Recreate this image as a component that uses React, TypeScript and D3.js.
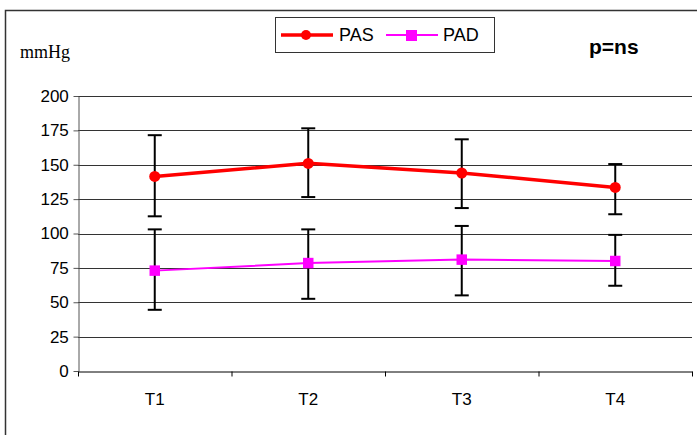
import React, { useRef, useEffect } from "react";
import { select, scaleLinear, scaleBand, line, axisLeft, axisBottom, symbol, symbolSquare } from "d3";

const categories = ["T1", "T2", "T3", "T4"];
const pasMean = [141.5, 151, 144, 133.5];
const pasLow = [112.5, 126.5, 118.5, 114];
const pasHigh = [171.5, 176.5, 168.5, 150.5];
const padMean = [73, 78.5, 81, 80];
const padLow = [44.5, 52.5, 55, 62];
const padHigh = [103, 103, 105.5, 99];
const yTicks = [0, 25, 50, 75, 100, 125, 150, 175, 200];

const W = 697;
const H = 435;
const margin = { left: 78, right: 5, top: 96, bottom: 64 };

function App() {
  const svgRef = useRef<SVGSVGElement>(null);

  useEffect(() => {
    const svg = select(svgRef.current);
    svg.selectAll("*").remove();

    const xScale = scaleBand<string>()
      .domain(categories)
      .range([margin.left, W - margin.right]);
    const yScale = scaleLinear()
      .domain([0, 200])
      .range([H - margin.bottom, margin.top]);
    const cx = (i: number) => xScale(categories[i])! + xScale.bandwidth() / 2;

    // outer frame
    svg.append("rect")
      .attr("x", 5.5).attr("y", 10.5)
      .attr("width", W + 10).attr("height", H + 10)
      .attr("fill", "none").attr("stroke", "#333").attr("stroke-width", 1.5);

    // gridlines
    svg.append("g")
      .selectAll("line")
      .data(yTicks.filter((d) => d > 0))
      .join("line")
      .attr("x1", margin.left).attr("x2", W - margin.right)
      .attr("y1", (d) => Math.round(yScale(d)) + 0.5)
      .attr("y2", (d) => Math.round(yScale(d)) + 0.5)
      .attr("stroke", "#333").attr("stroke-width", 1);

    // axes
    const yAxis = axisLeft(yScale).tickValues(yTicks).tickSize(5).tickSizeOuter(0);
    const gy = svg.append("g").attr("transform", `translate(${margin.left + 0.5},0)`).call(yAxis);
    gy.selectAll("text")
      .attr("font-family", "Liberation Sans, Arial, sans-serif")
      .attr("font-size", 17).attr("fill", "#000").attr("dx", "-0.1em");
    gy.selectAll("line, path").attr("stroke", "#555");

    const xAxis = axisBottom(xScale).tickSize(0).tickSizeOuter(0);
    const gx = svg.append("g").attr("transform", `translate(0,${Math.round(yScale(0)) + 0.5})`).call(xAxis);
    gx.select("path").attr("stroke", "#000");
    gx.selectAll("text")
      .attr("font-family", "Liberation Sans, Arial, sans-serif")
      .attr("font-size", 17).attr("fill", "#000").attr("dy", "1.8em");
    // ticks at band boundaries
    gx.selectAll(".bound")
      .data(categories.concat(["end"]))
      .join("line")
      .attr("class", "bound")
      .attr("x1", (d, i) => margin.left + i * xScale.bandwidth() + 0.5)
      .attr("x2", (d, i) => margin.left + i * xScale.bandwidth() + 0.5)
      .attr("y1", 0).attr("y2", 5)
      .attr("stroke", "#000");

    const lineGen = line<number>()
      .x((d, i) => cx(i))
      .y((d) => yScale(d));

    const drawErr = (low: number[], high: number[]) => {
      const g = svg.append("g").attr("stroke", "#000").attr("stroke-width", 2);
      low.forEach((lo, i) => {
        const x = cx(i);
        g.append("line").attr("x1", x).attr("x2", x).attr("y1", yScale(lo)).attr("y2", yScale(high[i]));
        g.append("line").attr("x1", x - 7).attr("x2", x + 7).attr("y1", yScale(lo)).attr("y2", yScale(lo));
        g.append("line").attr("x1", x - 7).attr("x2", x + 7).attr("y1", yScale(high[i])).attr("y2", yScale(high[i]));
      });
    };
    drawErr(pasLow, pasHigh);
    drawErr(padLow, padHigh);

    // PAS
    svg.append("path").datum(pasMean).attr("d", lineGen)
      .attr("fill", "none").attr("stroke", "#ff0000").attr("stroke-width", 3.5);
    svg.append("g").selectAll("circle").data(pasMean).join("circle")
      .attr("cx", (d, i) => cx(i)).attr("cy", (d) => yScale(d))
      .attr("r", 5.5).attr("fill", "#ff0000");

    // PAD
    svg.append("path").datum(padMean).attr("d", lineGen)
      .attr("fill", "none").attr("stroke", "#ff00ff").attr("stroke-width", 2);
    svg.append("g").selectAll("path").data(padMean).join("path")
      .attr("d", symbol(symbolSquare, 110)())
      .attr("transform", (d, i) => `translate(${cx(i)},${yScale(d)})`)
      .attr("fill", "#ff00ff");

    // legend
    const lg = svg.append("g");
    lg.append("rect").attr("x", 275.5).attr("y", 17.5).attr("width", 219).attr("height", 35)
      .attr("fill", "#fff").attr("stroke", "#333").attr("stroke-width", 1);
    lg.append("line").attr("x1", 281).attr("x2", 333).attr("y1", 35).attr("y2", 35)
      .attr("stroke", "#ff0000").attr("stroke-width", 3.5);
    lg.append("circle").attr("cx", 306).attr("cy", 35).attr("r", 5).attr("fill", "#ff0000");
    lg.append("text").attr("x", 339).attr("y", 41).text("PAS")
      .attr("font-family", "Liberation Sans, Arial, sans-serif").attr("font-size", 18);
    lg.append("line").attr("x1", 386).attr("x2", 438).attr("y1", 35).attr("y2", 35)
      .attr("stroke", "#ff00ff").attr("stroke-width", 2);
    lg.append("rect").attr("x", 406).attr("y", 30).attr("width", 11).attr("height", 11).attr("fill", "#ff00ff");
    lg.append("text").attr("x", 443).attr("y", 41).text("PAD")
      .attr("font-family", "Liberation Sans, Arial, sans-serif").attr("font-size", 18);

    svg.append("text").attr("x", 20).attr("y", 58).text("mmHg")
      .attr("font-family", "Liberation Serif, Times New Roman, serif").attr("font-size", 18);
    svg.append("text").attr("x", 589).attr("y", 54).text("p=ns")
      .attr("font-family", "Liberation Sans, Arial, sans-serif").attr("font-size", 21)
      .attr("font-weight", "bold");
  }, []);

  return (
    <svg
      ref={svgRef}
      width={W}
      height={H}
      style={{ position: "absolute", left: 0, top: 0, background: "#fff" }}
    />
  );
}

export default App;
